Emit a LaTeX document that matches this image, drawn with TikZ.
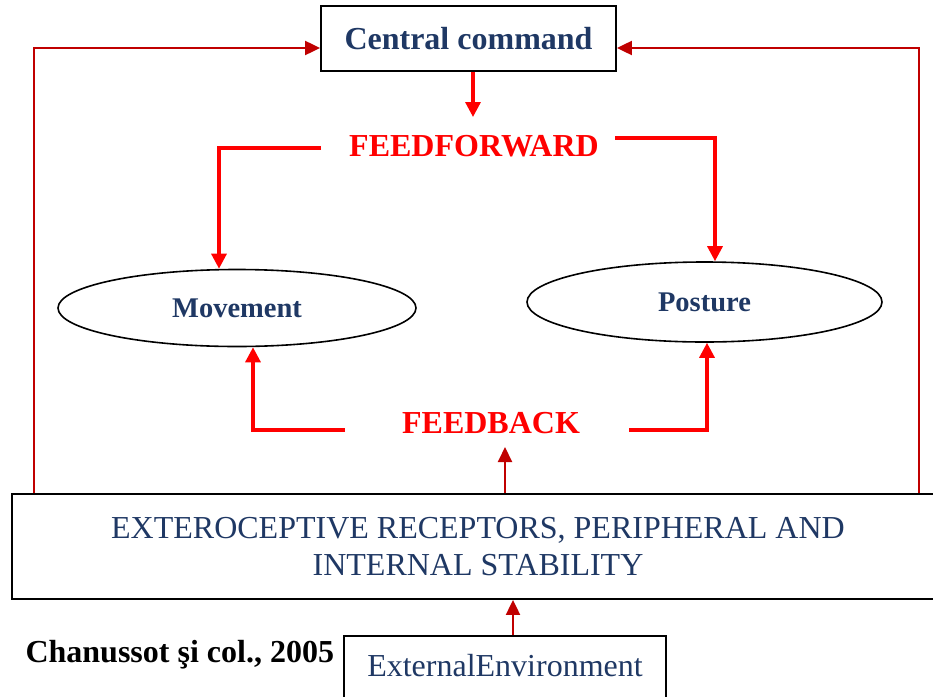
\documentclass[tikz,border=0pt]{standalone}
\usepackage{fontspec}
\setmainfont{Liberation Serif}
\usepackage{xcolor}
\usetikzlibrary{positioning}
\usetikzlibrary{arrows.meta}
\usetikzlibrary{shapes.geometric}

\definecolor{navy}{HTML}{1F3864}
\definecolor{darkred}{HTML}{C00000}

\tikzset{
  bigfont/.style={font=\fontsize{32}{37}\selectfont},
  blockbox/.style={draw, black, line width=1.8pt, rectangle, inner sep=0pt, text=navy, align=center, bigfont},
  loopnode/.style={draw, black, line width=1.6pt, ellipse, inner sep=0pt, text=navy, font=\fontsize{28.5}{32}\selectfont\bfseries},
  signal/.style={text=red, inner sep=0pt, font=\fontsize{32}{37}\selectfont\bfseries},
  innerarrow/.style={red, line width=3.2pt, -{Triangle[length=15pt, width=15pt]}},
  outerarrow/.style={darkred, line width=2pt, -{Triangle[length=15pt, width=14pt]}}
}

\begin{document}
\begin{tikzpicture}[x=1pt, y=-1pt]

\clip (0,0) rectangle (933,696);
\useasboundingbox (0,0) rectangle (933,696);

% boxes
\node[blockbox, minimum width=295pt, minimum height=65pt, font=\fontsize{32}{37}\selectfont\bfseries] (cc) at (468.5,38.5) {Central command};
\node[blockbox, minimum width=932pt, minimum height=105pt] (ext) at (478,546.5) {EXTEROCEPTIVE RECEPTORS, PERIPHERAL AND\\INTERNAL STABILITY};
\node[blockbox, anchor=north, minimum width=322pt, text height=41pt, text depth=44pt] (env) at (505,635) {ExternalEnvironment};

% movement and posture
\node[loopnode, minimum width=358pt, minimum height=77pt] (mov) at (237,308) {Movement};
\node[loopnode, minimum width=355pt, minimum height=80pt] (pos) at (704.5,302) {Posture};

% signal labels
\node[signal] (ff) at (474,146) {FEEDFORWARD};
\node[signal] (fb) at (491,423) {FEEDBACK};

\node[anchor=base west, font=\fontsize{32}{37}\selectfont\bfseries] (ref) at (22,662) {Chanussot şi col., 2005};

% loose ends of the red lines
\coordinate (fftop) at (473,117);
\coordinate (ffleft) at (321,148);
\coordinate (ffright) at (615,138);
\coordinate (fbleft) at (345,430);
\coordinate (fbright) at (629,430);
\coordinate (fbfoot) at (505,447);

% feedforward
\draw[innerarrow] (cc.south -| fftop) -- (fftop);
\draw[innerarrow] (ffleft) -| ([xshift=-18pt]mov.north);
\draw[innerarrow] (ffright) -| ([xshift=10.5pt]pos.north);

% feedback
\draw[innerarrow] (fbleft) -| ([xshift=16pt]mov.south);
\draw[innerarrow] (fbright) -| ([xshift=2.5pt]pos.south);
\draw[outerarrow] (ext.north -| fbfoot) -- (fbfoot);

% outer loops back to the central command
\draw[outerarrow] ([xshift=23pt]ext.north west) |- ([yshift=-9.5pt]cc.west);
\draw[outerarrow] ([xshift=-26pt]ext.north east) |- ([yshift=-9.5pt]cc.east);

% environment into the receptors
\draw[outerarrow] ([xshift=8pt]env.north) -- ([xshift=8pt]env.north |- ext.south);

\end{tikzpicture}
\end{document}
